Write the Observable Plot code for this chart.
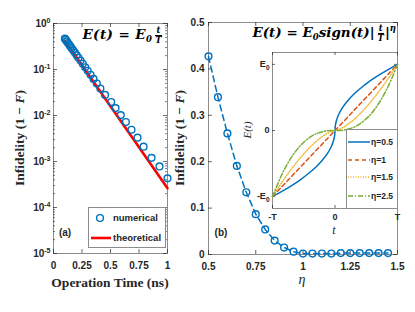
<!DOCTYPE html>
<html><head><meta charset="utf-8">
<script src="https://cdn.jsdelivr.net/npm/d3@7"></script>
<script src="https://cdn.jsdelivr.net/npm/@observablehq/plot@0.6"></script>
<style>
body{margin:0;background:#fff}
#wrap{position:relative;width:415px;height:312px;overflow:hidden;background:#fff}
#wrap svg{position:absolute;overflow:visible}
.lbl{position:absolute;white-space:nowrap;color:#262626;transform:translate(-50%,-50%);line-height:1}
.serif{font-family:"Liberation Serif","Times New Roman",serif}
.sans{font-family:"Liberation Sans",Arial,sans-serif}
.math{position:absolute;white-space:nowrap;font-family:"DejaVu Serif",serif;font-weight:bold;font-style:italic;font-size:13.5px;color:#000;transform:translateY(-50%);line-height:1}
.frac{display:inline-flex;flex-direction:column;align-items:center;vertical-align:middle;font-size:8.5px;line-height:8.5px;margin:0 1px 0 3px}
.frac span:first-child{border-bottom:1px solid #000;padding:0 1px}
</style></head><body><div id="wrap"></div>
<script>
// ---------- data ----------
const xTicksA = [0, 0.25, 0.5, 0.75, 1];
const xTickLabelsA = ["0", "0.25", "0.5", "0.75", "1"];
const yTicksA = [1e-5, 1e-4, 1e-3, 1e-2, 1e-1, 1];
const yExpA = ["-5", "-4", "-3", "-2", "-1", "0"];
const numT = [0.100,0.108,0.117,0.127,0.137,0.148,0.160,0.173,0.187,0.203,0.219,0.237,0.257,0.278,0.300,0.325,0.351,0.380,0.411,0.452,0.506,0.544,0.590,0.635,0.684,0.737,0.790,0.860,0.930,1.000];
const numInfid = [0.468,0.439,0.408,0.377,0.348,0.318,0.289,0.261,0.233,0.205,0.180,0.156,0.133,0.112,0.094,0.0769,0.0625,0.0495,0.0386,0.0280,0.0196,0.0145,0.0102,0.0072,0.0049,0.0033,0.0021,0.0012,0.00078,0.00043];
const theoT = [0.1, 0.25, 0.5, 0.75, 1];
const theoInfid = [0.42, 0.123, 0.0158, 0.00204, 0.000263];

const eta = [0.5,0.55,0.6,0.65,0.7,0.75,0.8,0.85,0.9,0.95,1,1.05,1.1,1.15,1.2,1.25,1.3,1.35,1.4,1.45];
const etaInfid = [0.427,0.339,0.261,0.191,0.134,0.087,0.054,0.030,0.015,0.006,0.002,0.002,0.002,0.002,0.003,0.003,0.003,0.003,0.003,0.003];
const xTicksB = [0.5, 0.75, 1, 1.25, 1.5];
const xTickLabelsB = ["0.5", "0.75", "1", "1.25", "1.5"];
const yTicksB = [0, 0.1, 0.2, 0.3, 0.4, 0.5];
const yTickLabelsB = ["0", "0.1", "0.2", "0.3", "0.4", "0.5"];

const insetT   = [-1,-0.85,-0.7,-0.55,-0.4,-0.3,-0.2,-0.12,-0.06,-0.02,-0.005,0,0.005,0.02,0.06,0.12,0.2,0.3,0.4,0.55,0.7,0.85,1];
const insetE05 = [-1,-0.922,-0.837,-0.742,-0.632,-0.548,-0.447,-0.346,-0.245,-0.141,-0.071,0,0.071,0.141,0.245,0.346,0.447,0.548,0.632,0.742,0.837,0.922,1];
const insetE1  = [-1,-0.85,-0.7,-0.55,-0.4,-0.3,-0.2,-0.12,-0.06,-0.02,-0.005,0,0.005,0.02,0.06,0.12,0.2,0.3,0.4,0.55,0.7,0.85,1];
const insetE15 = [-1,-0.784,-0.586,-0.408,-0.253,-0.164,-0.089,-0.042,-0.015,-0.003,0,0,0,0.003,0.015,0.042,0.089,0.164,0.253,0.408,0.586,0.784,1];
const insetE25 = [-1,-0.666,-0.410,-0.224,-0.101,-0.049,-0.018,-0.005,-0.001,0,0,0,0,0,0.001,0.005,0.018,0.049,0.101,0.224,0.410,0.666,1];
const insetXTicks = [-1, 0, 1];
const insetXLabels = ["-T", "0", "T"];
const insetYTicks = [-1, 0, 1];
const insetYLabels = ["-E|0", "0", "E|0"];
const curveNames = ["\u03b7=0.5", "\u03b7=1", "\u03b7=1.5", "\u03b7=2.5"];
const curveColors = ["#0072BD", "#D95319", "#EDB120", "#77AC30"];
const curveDash = [null, "4,3", "1,1.5", "5,2,1,2"];
const legendA = ["numerical", "theoretical"];

// ---------- helpers ----------
const wrap = document.getElementById("wrap");
const AX = "#8c8c8c", TXT = "#262626";
const SVGNS = "http://www.w3.org/2000/svg";
function place(el, left, top) { el.style.left = left + "px"; el.style.top = top + "px"; wrap.appendChild(el); }
function boxTicks(xt, yt, iw, ih, len) {
  const o = {stroke: "#262626", strokeWidth: 0.7};
  return [
    Plot.ruleX(xt, {x: d => d, insetTop: ih - len, ...o}),
    Plot.ruleX(xt, {x: d => d, insetBottom: ih - len, ...o}),
    Plot.ruleY(yt, {y: d => d, insetRight: iw - len, ...o}),
    Plot.ruleY(yt, {y: d => d, insetLeft: iw - len, ...o})
  ];
}
function scriptLabels(svg, sel, dy, size) {
  svg.querySelectorAll(sel).forEach(t => {
    const [b, e] = t.textContent.split("|");
    if (e === undefined) return;
    t.textContent = b;
    const s = document.createElementNS(SVGNS, "tspan");
    s.setAttribute("dy", dy); s.setAttribute("font-size", size); s.textContent = e;
    t.appendChild(s);
  });
}
function label(html, x, y, cls, style = "") {
  const d = document.createElement("div");
  d.className = "lbl " + cls; d.innerHTML = html; d.style.cssText += style;
  d.style.left = x + "px"; d.style.top = y + "px";
  wrap.appendChild(d);
}
const baseStyle = {background: "transparent", fontFamily: "'Liberation Sans', Arial, sans-serif", fontSize: "10px", fontWeight: "bold", color: TXT, overflow: "visible"};

// ---------- panel (a) ----------
const numData = numT.map((t, i) => ({t, v: numInfid[i]}));
const theoData = theoT.map((t, i) => ({t, v: theoInfid[i]}));
const minorA = d3.range(-5, 0).flatMap(k => d3.range(2, 10).map(m => m * 10 ** k));
const wA = 175, hA = 312, mlA = 53, mrA = 8, mtA = 23, mbA = 59;
const A = Plot.plot({
  width: wA, height: hA, marginLeft: mlA, marginRight: mrA, marginTop: mtA, marginBottom: mbA,
  style: baseStyle,
  x: {domain: [0, 1], ticks: xTicksA, tickFormat: d => xTickLabelsA[xTicksA.indexOf(d)], tickSize: 0, tickPadding: 8, label: null},
  y: {type: "log", domain: [1e-5, 1], ticks: yTicksA, tickFormat: d => "10|" + yExpA[yTicksA.indexOf(d)], tickSize: 0, tickPadding: 3, label: null},
  marks: [
    Plot.frame({stroke: AX}),
    ...boxTicks(xTicksA, yTicksA, wA - mlA - mrA, hA - mtA - mbA, 4),
    Plot.ruleY(minorA, {y: d => d, insetRight: wA - mlA - mrA - 2, stroke: "#262626", strokeWidth: 0.6}),
    Plot.ruleY(minorA, {y: d => d, insetLeft: wA - mlA - mrA - 2, stroke: "#262626", strokeWidth: 0.6}),
    Plot.line(theoData, {x: "t", y: "v", stroke: "#ff0000", strokeWidth: 2.6}),
    Plot.dot(numData, {x: "t", y: "v", r: 3.4, stroke: "#0072BD", strokeWidth: 1.4, fill: "none"})
  ]
});
place(A, 0, 0);
scriptLabels(A, '[aria-label="y-axis tick label"] text', "-0.5em", "7px");

// legend (a)
const LA = d3.create("svg").attr("width", 78).attr("height", 41).style("overflow", "visible");
LA.append("rect").attr("x", 0.5).attr("y", 0.5).attr("width", 77).attr("height", 40).attr("fill", "#fff").attr("stroke", AX);
LA.append("circle").attr("cx", 12).attr("cy", 11).attr("r", 3.4).attr("fill", "none").attr("stroke", "#0072BD").attr("stroke-width", 1.4);
LA.append("line").attr("x1", 3).attr("x2", 23).attr("y1", 31).attr("y2", 31).attr("stroke", "#ff0000").attr("stroke-width", 2.6);
legendA.forEach((s, i) => LA.append("text").attr("x", 25).attr("y", i ? 31 : 11).attr("dy", "0.35em")
  .attr("font-family", "'Liberation Sans', Arial, sans-serif").attr("font-weight", "bold").attr("font-size", "9.5px").attr("fill", TXT).text(s));
place(LA.node(), 88, 207);

// ---------- panel (b) ----------
const etaData = eta.map((e, i) => ({e, v: etaInfid[i]}));
const wB = 245, hB = 312, mlB = 38, mrB = 18, mtB = 22, mbB = 58;
const B = Plot.plot({
  width: wB, height: hB, marginLeft: mlB, marginRight: mrB, marginTop: mtB, marginBottom: mbB,
  style: baseStyle,
  x: {domain: [0.5, 1.5], ticks: xTicksB, tickFormat: d => xTickLabelsB[xTicksB.indexOf(d)], tickSize: 0, tickPadding: 8, label: null},
  y: {domain: [0, 0.5], ticks: yTicksB, tickFormat: d => yTickLabelsB[yTicksB.indexOf(d)], tickSize: 0, tickPadding: 4, label: null},
  marks: [
    Plot.frame({stroke: AX}),
    ...boxTicks(xTicksB, yTicksB, wB - mlB - mrB, hB - mtB - mbB, 4),
    Plot.line(etaData, {x: "e", y: "v", stroke: "#0072BD", strokeWidth: 1.5, strokeDasharray: "6,4"}),
    Plot.dot(etaData, {x: "e", y: "v", r: 3.4, stroke: "#0072BD", strokeWidth: 1.4, fill: "none"})
  ]
});
place(B, 170, 0);

// ---------- inset ----------
const curves = [insetE05, insetE1, insetE15, insetE25];
const wC = 175, hC = 200, mlC = 42, mrC = 8, mtC = 12, mbC = 32;
const C = Plot.plot({
  width: wC, height: hC, marginLeft: mlC, marginRight: mrC, marginTop: mtC, marginBottom: mbC,
  style: {...baseStyle, fontSize: "9px"},
  x: {domain: [-1, 1], ticks: insetXTicks, tickFormat: d => insetXLabels[insetXTicks.indexOf(d)], tickSize: 0, tickPadding: 5, label: null},
  y: {domain: [-1.18, 1.18], ticks: insetYTicks, tickFormat: d => insetYLabels[insetYTicks.indexOf(d)], tickSize: 0, tickPadding: 3, label: null},
  marks: [
    Plot.frame({fill: "#fff", stroke: AX}),
    ...boxTicks(insetXTicks, insetYTicks, wC - mlC - mrC, hC - mtC - mbC, 3),
    ...curves.map((arr, k) => Plot.line(arr.map((v, i) => ({t: insetT[i], v})), {
      x: "t", y: "v", stroke: curveColors[k], strokeWidth: k === 2 ? 1.3 : 1.5, strokeDasharray: curveDash[k], curve: "catmull-rom"
    }))
  ]
});
place(C, 230, 40);
scriptLabels(C, '[aria-label="y-axis tick label"] text', "0.35em", "6.5px");

// inset legend
const LC = d3.create("svg").attr("width", 52).attr("height", 80).style("overflow", "visible");
LC.append("rect").attr("x", 0.5).attr("y", 0.5).attr("width", 51).attr("height", 79).attr("fill", "#fff").attr("stroke", AX);
[13, 31, 48, 67].forEach((yy, k) => {
  const ln = LC.append("line").attr("x1", 2).attr("x2", 24).attr("y1", yy).attr("y2", yy)
    .attr("stroke", curveColors[k]).attr("stroke-width", k === 2 ? 1.3 : 1.5);
  if (curveDash[k]) ln.attr("stroke-dasharray", curveDash[k]);
  LC.append("text").attr("x", 25).attr("y", yy).attr("dy", "0.35em")
    .attr("font-family", "'Liberation Sans', Arial, sans-serif").attr("font-weight", "bold").attr("font-size", "8.5px").attr("fill", TXT).text(curveNames[k]);
});
place(LC.node(), 346, 129);

// ---------- text labels ----------
label("Operation Time (ns)", 110, 283, "serif", "font-weight:bold;font-size:13.5px;");
label("Infidelity (1 \u2212 <i>F</i>)", 20, 138, "serif", "font-weight:bold;font-size:13.5px;transform:translate(-50%,-50%) rotate(-90deg);");
label("Infidelity (1 \u2212 <i>F</i>)", 180, 138, "serif", "font-weight:bold;font-size:13.5px;transform:translate(-50%,-50%) rotate(-90deg);");
label("\u03b7", 302, 280, "serif", "font-style:italic;font-size:14px;");
label("(a)", 65, 233, "sans", "font-weight:bold;font-size:10px;");
label("(b)", 221, 233, "sans", "font-weight:bold;font-size:10px;");
label("t", 334, 230, "serif", "font-style:italic;font-size:12px;");
label("E(t)", 247, 130, "serif", "font-style:italic;font-size:11px;transform:translate(-50%,-50%) rotate(-90deg);");

const t1 = document.createElement("div");
t1.className = "math";
t1.innerHTML = 'E(t) = E<sub style="font-size:8.5px">0</sub><span class="frac"><span>t</span><span>T</span></span>';
t1.style.right = (415 - 163) + "px"; t1.style.top = "35px"; t1.style.letterSpacing = "0.4px";
wrap.appendChild(t1);
const t2 = document.createElement("div");
t2.className = "math";
t2.innerHTML = 'E(t) = E<sub style="font-size:8.5px">0</sub>sign(t)|<span class="frac"><span>t</span><span>T</span></span>|<sup style="font-size:8.5px">\u03b7</sup>';
t2.style.right = (415 - 396) + "px"; t2.style.top = "33px";
wrap.appendChild(t2);
</script></body></html>
